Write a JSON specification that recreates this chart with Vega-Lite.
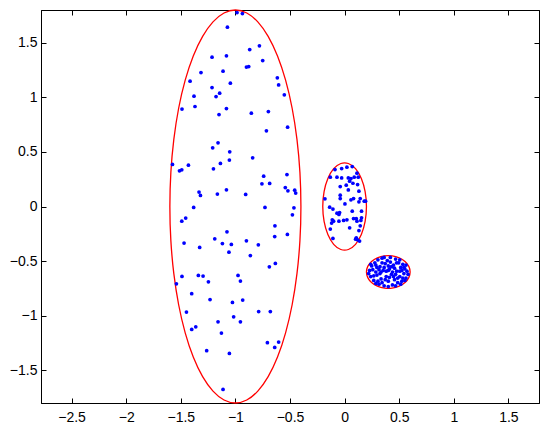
{
  "$schema": "https://vega.github.io/schema/vega-lite/v6.json",
  "width": 498,
  "height": 393,
  "autosize": {"type": "none"},
  "padding": {"left": 41, "top": 10, "right": 11, "bottom": 33},
  "background": "white",
  "config": {
    "view": {"stroke": "black", "strokeWidth": 1},
    "axis": {
      "grid": false,
      "title": null,
      "domainColor": "black",
      "tickColor": "black",
      "tickSize": -5,
      "labelFont": "Liberation Sans",
      "labelFontSize": 14,
      "labelColor": "black",
      "labelPadding": 9,
      "labelExpr": "(datum.value < 0 ? '\u2212' : '') + format(abs(datum.value), '~g')"
    }
  },
  "datasets": {
    "ellipses": [
      {"e":"a","i":0,"x":-0.4,"y":0},{"e":"a","i":1,"x":-0.4091,"y":0.3125},{"e":"a","i":2,"x":-0.4362,"y":0.6156},{"e":"a","i":3,"x":-0.4804,"y":0.9},{"e":"a","i":4,"x":-0.5404,"y":1.157},{"e":"a","i":5,"x":-0.6143,"y":1.3788},{"e":"a","i":6,"x":-0.7,"y":1.5588},{"e":"a","i":7,"x":-0.7948,"y":1.6915},{"e":"a","i":8,"x":-0.8958,"y":1.7727},{"e":"a","i":9,"x":-1,"y":1.8},{"e":"a","i":10,"x":-1.1042,"y":1.7727},{"e":"a","i":11,"x":-1.2052,"y":1.6915},{"e":"a","i":12,"x":-1.3,"y":1.5588},{"e":"a","i":13,"x":-1.3857,"y":1.3788},{"e":"a","i":14,"x":-1.4596,"y":1.157},{"e":"a","i":15,"x":-1.5196,"y":0.9},{"e":"a","i":16,"x":-1.5638,"y":0.6156},{"e":"a","i":17,"x":-1.5909,"y":0.3125},{"e":"a","i":18,"x":-1.6,"y":0},{"e":"a","i":19,"x":-1.5909,"y":-0.3125},{"e":"a","i":20,"x":-1.5638,"y":-0.6156},{"e":"a","i":21,"x":-1.5196,"y":-0.9},{"e":"a","i":22,"x":-1.4596,"y":-1.157},{"e":"a","i":23,"x":-1.3857,"y":-1.3788},{"e":"a","i":24,"x":-1.3,"y":-1.5588},{"e":"a","i":25,"x":-1.2052,"y":-1.6915},{"e":"a","i":26,"x":-1.1042,"y":-1.7727},{"e":"a","i":27,"x":-1,"y":-1.8},{"e":"a","i":28,"x":-0.8958,"y":-1.7727},{"e":"a","i":29,"x":-0.7948,"y":-1.6915},{"e":"a","i":30,"x":-0.7,"y":-1.5588},{"e":"a","i":31,"x":-0.6143,"y":-1.3788},{"e":"a","i":32,"x":-0.5404,"y":-1.157},{"e":"a","i":33,"x":-0.4804,"y":-0.9},{"e":"a","i":34,"x":-0.4362,"y":-0.6156},{"e":"a","i":35,"x":-0.4091,"y":-0.3125},
      {"e":"b","i":0,"x":0.2,"y":0},{"e":"b","i":1,"x":0.1879,"y":0.1368},{"e":"b","i":2,"x":0.1532,"y":0.2571},{"e":"b","i":3,"x":0.1,"y":0.3464},{"e":"b","i":4,"x":0.0347,"y":0.3939},{"e":"b","i":5,"x":-0.0347,"y":0.3939},{"e":"b","i":6,"x":-0.1,"y":0.3464},{"e":"b","i":7,"x":-0.1532,"y":0.2571},{"e":"b","i":8,"x":-0.1879,"y":0.1368},{"e":"b","i":9,"x":-0.2,"y":0},{"e":"b","i":10,"x":-0.1879,"y":-0.1368},{"e":"b","i":11,"x":-0.1532,"y":-0.2571},{"e":"b","i":12,"x":-0.1,"y":-0.3464},{"e":"b","i":13,"x":-0.0347,"y":-0.3939},{"e":"b","i":14,"x":0.0347,"y":-0.3939},{"e":"b","i":15,"x":0.1,"y":-0.3464},{"e":"b","i":16,"x":0.1532,"y":-0.2571},{"e":"b","i":17,"x":0.1879,"y":-0.1368},
      {"e":"c","i":0,"x":0.6,"y":-0.6},{"e":"c","i":1,"x":0.5879,"y":-0.5487},{"e":"c","i":2,"x":0.5532,"y":-0.5036},{"e":"c","i":3,"x":0.5,"y":-0.4701},{"e":"c","i":4,"x":0.4347,"y":-0.4523},{"e":"c","i":5,"x":0.3653,"y":-0.4523},{"e":"c","i":6,"x":0.3,"y":-0.4701},{"e":"c","i":7,"x":0.2468,"y":-0.5036},{"e":"c","i":8,"x":0.2121,"y":-0.5487},{"e":"c","i":9,"x":0.2,"y":-0.6},{"e":"c","i":10,"x":0.2121,"y":-0.6513},{"e":"c","i":11,"x":0.2468,"y":-0.6964},{"e":"c","i":12,"x":0.3,"y":-0.7299},{"e":"c","i":13,"x":0.3653,"y":-0.7477},{"e":"c","i":14,"x":0.4347,"y":-0.7477},{"e":"c","i":15,"x":0.5,"y":-0.7299},{"e":"c","i":16,"x":0.5532,"y":-0.6964},{"e":"c","i":17,"x":0.5879,"y":-0.6513}
    ],
    "points": [
      {"x":-0.985,"y":1.777},{"x":-0.936,"y":1.767},{"x":-1.073,"y":1.643},{"x":-0.869,"y":1.438},{"x":-0.78,"y":1.472},{"x":-1.214,"y":1.368},{"x":-1.082,"y":1.38},{"x":-0.75,"y":1.337},{"x":-0.899,"y":1.277},{"x":-0.878,"y":1.282},{"x":-1.315,"y":1.227},{"x":-1.113,"y":1.24},{"x":-1.415,"y":1.148},{"x":-0.616,"y":1.179},{"x":-1.046,"y":1.13},{"x":-1.214,"y":1.09},{"x":-0.604,"y":1.114},{"x":-1.144,"y":1.038},{"x":-1.177,"y":1.007},{"x":-1.379,"y":1.011},{"x":-0.552,"y":1.023},{"x":-1.489,"y":0.892},{"x":-1.37,"y":0.916},{"x":-1.082,"y":0.897},{"x":-1.15,"y":0.842},{"x":-0.854,"y":0.855},{"x":-0.698,"y":0.87},{"x":-0.522,"y":0.727},{"x":-0.716,"y":0.693},
      {"x":-1.159,"y":0.583},{"x":-1.208,"y":0.538},{"x":-1.052,"y":0.501},{"x":-1.576,"y":0.385},{"x":-1.43,"y":0.379},{"x":-1.512,"y":0.327},{"x":-1.491,"y":0.336},{"x":-1.201,"y":0.345},{"x":-1.137,"y":0.394},{"x":-1.055,"y":0.425},{"x":-0.842,"y":0.446},{"x":-0.741,"y":0.278},{"x":-0.528,"y":0.293},{"x":-0.757,"y":0.208},{"x":-0.686,"y":0.211},{"x":-0.543,"y":0.174},{"x":-0.519,"y":0.144},{"x":-0.457,"y":0.15},{"x":-0.448,"y":0.123},{"x":-1.333,"y":0.132},{"x":-1.32,"y":0.101},{"x":-1.165,"y":0.114},{"x":-1.082,"y":0.153},{"x":-0.906,"y":0.11},{"x":-1.382,"y":-0.009},{"x":-0.729,"y":-0.009},{"x":-0.464,"y":-0.012},{"x":-0.478,"y":-0.076},{"x":-1.455,"y":-0.106},{"x":-1.491,"y":-0.134},{"x":-0.638,"y":-0.177},{"x":-1.077,"y":-0.232},{"x":-0.64,"y":-0.275},{"x":-0.524,"y":-0.256},{"x":-1.47,"y":-0.335},{"x":-1.327,"y":-0.375},{"x":-1.189,"y":-0.296},{"x":-1.119,"y":-0.339},{"x":-1.037,"y":-0.348},{"x":-0.899,"y":-0.314},{"x":-0.79,"y":-0.351},{"x":-1.059,"y":-0.418},{"x":-0.863,"y":-0.449},{"x":-0.689,"y":-0.552},{"x":-0.634,"y":-0.522},
      {"x":-1.489,"y":-0.641},{"x":-1.339,"y":-0.632},{"x":-1.296,"y":-0.637},{"x":-0.976,"y":-0.632},{"x":-0.954,"y":-0.683},{"x":-1.247,"y":-0.69},{"x":-1.54,"y":-0.708},{"x":-1.4,"y":-0.799},{"x":-1.232,"y":-0.852},{"x":-1.027,"y":-0.879},{"x":-0.933,"y":-0.857},{"x":-1.448,"y":-0.967},{"x":-0.787,"y":-0.962},{"x":-0.68,"y":-0.962},{"x":-1.016,"y":-1.01},{"x":-1.159,"y":-1.056},{"x":-0.954,"y":-1.056},{"x":-1.4,"y":-1.126},{"x":-1.363,"y":-1.102},{"x":-1.128,"y":-1.159},{"x":-0.707,"y":-1.248},{"x":-0.604,"y":-1.242},{"x":-0.64,"y":-1.291},{"x":-1.263,"y":-1.321},{"x":-1.055,"y":-1.346},{"x":-1.113,"y":-1.676},
      {"x":-0.088,"y":0.338},{"x":-0.027,"y":0.348},{"x":0.021,"y":0.36},{"x":0.07,"y":0.366},{"x":0.113,"y":0.305},{"x":-0.131,"y":0.268},{"x":-0.07,"y":0.268},{"x":-0.027,"y":0.262},{"x":0.034,"y":0.262},{"x":0.058,"y":0.256},{"x":0.088,"y":0.268},{"x":0.125,"y":0.268},{"x":0.046,"y":0.232},{"x":0.076,"y":0.213},{"x":0.015,"y":0.195},{"x":-0.04,"y":0.183},{"x":0.119,"y":0.201},{"x":0.131,"y":0.14},{"x":0.034,"y":0.152},{"x":-0.04,"y":0.104},{"x":-0.04,"y":0.073},{"x":-0.18,"y":0.07},{"x":0.082,"y":0.073},{"x":0.058,"y":0.061},{"x":0.143,"y":0.073},{"x":0.131,"y":0.043},{"x":0.18,"y":0.049},{"x":0.192,"y":0.049},{"x":-0.137,"y":-0.006},{"x":-0.107,"y":-0.024},{"x":0.003,"y":0.024},{"x":-0.07,"y":-0.061},{"x":-0.052,"y":-0.073},{"x":-0.046,"y":-0.055},{"x":0.155,"y":-0.043},{"x":0.07,"y":-0.043},{"x":-0.113,"y":-0.122},{"x":-0.101,"y":-0.134},{"x":-0.052,"y":-0.134},{"x":-0.009,"y":-0.128},{"x":0.021,"y":-0.122},{"x":0.082,"y":-0.11},{"x":0.107,"y":-0.11},{"x":0.113,"y":-0.134},{"x":0.149,"y":-0.128},{"x":0.155,"y":-0.104},{"x":-0.119,"y":-0.152},{"x":0.046,"y":-0.195},{"x":-0.131,"y":-0.207},{"x":0.143,"y":-0.177},{"x":0.131,"y":-0.22},{"x":-0.107,"y":-0.293},{"x":0.107,"y":-0.287},{"x":0.119,"y":-0.305},{"x":0.101,"y":-0.299},{"x":0.137,"y":-0.317},
      {"x":0.229,"y":-0.586},{"x":0.239,"y":-0.642},{"x":0.248,"y":-0.544},{"x":0.267,"y":-0.677},{"x":0.277,"y":-0.516},{"x":0.286,"y":-0.6},{"x":0.296,"y":-0.628},{"x":0.305,"y":-0.488},{"x":0.315,"y":-0.712},{"x":0.324,"y":-0.551},{"x":0.334,"y":-0.663},{"x":0.343,"y":-0.474},{"x":0.353,"y":-0.586},{"x":0.362,"y":-0.726},{"x":0.372,"y":-0.523},{"x":0.381,"y":-0.642},{"x":0.391,"y":-0.495},{"x":0.4,"y":-0.684},{"x":0.41,"y":-0.572},{"x":0.419,"y":-0.467},{"x":0.429,"y":-0.621},{"x":0.438,"y":-0.719},{"x":0.448,"y":-0.537},{"x":0.457,"y":-0.67},{"x":0.467,"y":-0.481},{"x":0.476,"y":-0.593},{"x":0.486,"y":-0.698},{"x":0.495,"y":-0.516},{"x":0.505,"y":-0.642},{"x":0.514,"y":-0.558},{"x":0.524,"y":-0.684},{"x":0.533,"y":-0.53},{"x":0.543,"y":-0.614},{"x":0.552,"y":-0.572},{"x":0.562,"y":-0.656},{"x":0.571,"y":-0.593},{"x":0.581,"y":-0.621},{"x":0.22,"y":-0.614},{"x":0.258,"y":-0.579},{"x":0.267,"y":-0.635},{"x":0.286,"y":-0.537},{"x":0.305,"y":-0.684},{"x":0.315,"y":-0.579},{"x":0.324,"y":-0.614},{"x":0.343,"y":-0.516},{"x":0.343,"y":-0.698},{"x":0.362,"y":-0.558},{"x":0.372,"y":-0.67},{"x":0.381,"y":-0.593},{"x":0.4,"y":-0.544},{"x":0.4,"y":-0.733},{"x":0.41,"y":-0.649},{"x":0.419,"y":-0.509},{"x":0.438,"y":-0.6},{"x":0.448,"y":-0.642},{"x":0.457,"y":-0.565},{"x":0.467,"y":-0.726},{"x":0.476,"y":-0.516},{"x":0.486,"y":-0.656},{"x":0.505,"y":-0.488},{"x":0.505,"y":-0.593},{"x":0.514,"y":-0.712},{"x":0.533,"y":-0.656},{"x":0.543,"y":-0.558},{"x":0.552,"y":-0.677},{"x":0.562,"y":-0.537},{"x":0.239,"y":-0.53},{"x":0.286,"y":-0.705},{"x":0.362,"y":-0.467},{"x":0.429,"y":-0.551},{"x":0.524,"y":-0.586},{"x":0.334,"y":-0.6},{"x":0.4,"y":-0.586},{"x":0.296,"y":-0.558},{"x":0.467,"y":-0.621}
    ]
  },
  "layer": [
    {
      "data": {"name": "ellipses"},
      "mark": {"type": "line", "color": "#ff0000", "strokeWidth": 1.3, "interpolate": "cardinal-closed"},
      "encoding": {
        "x": {"field": "x", "type": "quantitative", "scale": {"domain": [-2.78, 1.78], "nice": false, "zero": false}, "axis": {"orient": "bottom", "labelPadding": 12, "values": [-2.5, -2, -1.5, -1, -0.5, 0, 0.5, 1, 1.5]}},
        "y": {"field": "y", "type": "quantitative", "scale": {"domain": [-1.8, 1.8], "nice": false, "zero": false}, "axis": {"orient": "left", "labelPadding": 9, "values": [-1.5, -1, -0.5, 0, 0.5, 1, 1.5]}},
        "detail": {"field": "e"},
        "order": {"field": "i"}
      }
    },
    {
      "data": {"name": "points"},
      "mark": {"type": "circle", "color": "#0000ff", "size": 14, "opacity": 1},
      "encoding": {
        "x": {"field": "x", "type": "quantitative", "scale": {"domain": [-2.78, 1.78], "nice": false, "zero": false}, "axis": {"orient": "top", "labels": false, "values": [-2.5, -2, -1.5, -1, -0.5, 0, 0.5, 1, 1.5]}},
        "y": {"field": "y", "type": "quantitative", "scale": {"domain": [-1.8, 1.8], "nice": false, "zero": false}, "axis": {"orient": "right", "labels": false, "values": [-1.5, -1, -0.5, 0, 0.5, 1, 1.5]}}
      }
    }
  ],
  "resolve": {"axis": {"x": "independent", "y": "independent"}}
}
